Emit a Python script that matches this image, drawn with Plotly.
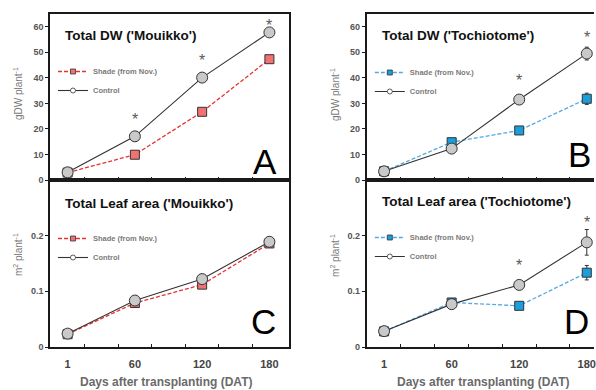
import plotly.graph_objects as go

# ---------------- data ----------------
dat_labels = ["1", "60", "120", "180"]
pos = [0, 1, 2, 3]

dw_mouikko_control = [3.0, 17.1, 40.1, 57.8]
dw_mouikko_shade = [2.9, 9.9, 26.7, 47.3]
dw_mouikko_control_err = [0.3, 0.6, 0.8, 0.8]
dw_mouikko_shade_err = [0.3, 0.5, 0.8, 0.8]
dw_mouikko_sig = [None, 25.6, 48.8, 62.6]

dw_tochi_control = [3.4, 12.3, 31.5, 49.5]
dw_tochi_shade = [3.4, 14.8, 19.4, 31.8]
dw_tochi_control_err = [0.4, 0.6, 0.8, 2.5]
dw_tochi_shade_err = [0.4, 0.6, 0.8, 2.2]
dw_tochi_sig = [None, None, 41.0, 57.6]

la_mouikko_control = [0.024, 0.0835, 0.122, 0.189]
la_mouikko_shade = [0.023, 0.079, 0.112, 0.186]
la_mouikko_control_err = [0.002, 0.003, 0.004, 0.008]
la_mouikko_shade_err = [0.002, 0.003, 0.004, 0.007]
la_mouikko_sig = [None, None, None, None]

la_tochi_control = [0.0285, 0.077, 0.1115, 0.188]
la_tochi_shade = [0.028, 0.080, 0.074, 0.1335]
la_tochi_control_err = [0.002, 0.003, 0.004, 0.023]
la_tochi_shade_err = [0.002, 0.003, 0.004, 0.013]
la_tochi_sig = [None, None, 0.155, 0.2325]

minor_tick_pos = [0.25, 0.75, 1.25, 1.75, 2.25, 2.75]

# ---------------- style ----------------
FONT = "Liberation Sans, Arial, sans-serif"
RED_FILL = "#F27272"
RED_LINE = "#E5332E"
BLUE_FILL = "#1A9FDC"
BLUE_LINE = "#55A9E2"
GREY_FILL = "#C9C9C9"
DARK = "#333333"
AXC = "#1a1a1a"

panels = [
    dict(xa="x", ya="y", legend="legend", ctrl=dw_mouikko_control, sh=dw_mouikko_shade,
         ce=dw_mouikko_control_err, se=dw_mouikko_shade_err, sig=dw_mouikko_sig,
         fill=RED_FILL, line=RED_LINE, title="Total DW ('Mouikko')", letter="A"),
    dict(xa="x2", ya="y2", legend="legend2", ctrl=dw_tochi_control, sh=dw_tochi_shade,
         ce=dw_tochi_control_err, se=dw_tochi_shade_err, sig=dw_tochi_sig,
         fill=BLUE_FILL, line=BLUE_LINE, title="Total DW ('Tochiotome')", letter="B"),
    dict(xa="x3", ya="y3", legend="legend3", ctrl=la_mouikko_control, sh=la_mouikko_shade,
         ce=la_mouikko_control_err, se=la_mouikko_shade_err, sig=la_mouikko_sig,
         fill=RED_FILL, line=RED_LINE, title="Total Leaf area ('Mouikko')", letter="C"),
    dict(xa="x4", ya="y4", legend="legend4", ctrl=la_tochi_control, sh=la_tochi_shade,
         ce=la_tochi_control_err, se=la_tochi_shade_err, sig=la_tochi_sig,
         fill=BLUE_FILL, line=BLUE_LINE, title="Total Leaf area ('Tochiotome')", letter="D"),
]

fig = go.Figure()
annos = []

for p in panels:
    fig.add_trace(go.Scatter(
        x=pos, y=p["sh"], xaxis=p["xa"], yaxis=p["ya"], mode="lines+markers",
        line=dict(color=p["line"], width=1.3, dash="4px,2px"),
        marker=dict(symbol="square", size=9, color=p["fill"], line=dict(color=DARK, width=1)),
        error_y=dict(type="data", array=p["se"], color=DARK, thickness=1, width=2),
        showlegend=False, cliponaxis=False))
    fig.add_trace(go.Scatter(
        x=pos, y=p["ctrl"], xaxis=p["xa"], yaxis=p["ya"], mode="lines+markers",
        line=dict(color=DARK, width=1.1),
        marker=dict(symbol="circle", size=11, color=GREY_FILL, line=dict(color=DARK, width=1)),
        error_y=dict(type="data", array=p["ce"], color=DARK, thickness=1, width=2),
        showlegend=False, cliponaxis=False))
    fig.add_trace(go.Scatter(
        x=[None], y=[None], xaxis=p["xa"], yaxis=p["ya"], mode="lines+markers",
        name="<b>Shade (from Nov.)</b>", legend=p["legend"],
        line=dict(color=p["line"], width=1.3, dash="4px,2px"),
        marker=dict(symbol="square", size=5, color=p["fill"], line=dict(color=DARK, width=0.8))))
    fig.add_trace(go.Scatter(
        x=[None], y=[None], xaxis=p["xa"], yaxis=p["ya"], mode="lines+markers",
        name="<b>Control</b>", legend=p["legend"],
        line=dict(color=DARK, width=1.1),
        marker=dict(symbol="circle", size=5, color="white", line=dict(color=DARK, width=0.8))))
    # significance asterisks
    for xv, s in zip(pos, p["sig"]):
        if s is not None:
            annos.append(dict(text="*", xref=p["xa"], yref=p["ya"], x=xv, y=s, yshift=-5,
                              xanchor="center", yanchor="middle", showarrow=False,
                              font=dict(family=FONT, size=16, color="#5a5a5a")))

# ---------------- layout ----------------
L, R, T, B = 50, 0, 14, 43
W, H = 596, 390
pw = W - L - R
ph = H - T - B
def fx(px):
    return (px - L) / pw
def fy(py):
    return (H - B - py) / ph

left_dom = [0, fx(290)]
right_dom = [fx(367.7), 1]
top_dom = [fy(180), 1]
bot_dom = [0, fy(180)]

left_range = [-0.262, 3.293]
right_range = [-0.26, 3.107]

tickfont_y = dict(family=FONT, size=9, color="#555555", weight="bold")
tickfont_x = dict(family=FONT, size=11, color="#444444", weight="bold")

def xaxis(dom, rng, anchor, labels, mirror=True):
    return dict(domain=dom, range=rng, anchor=anchor, showline=True, linecolor=AXC, linewidth=1.6,
                mirror=mirror, showgrid=False, zeroline=False, ticks="",
                tickvals=pos, ticktext=dat_labels, ticklabeloverflow="allow",
                showticklabels=labels, tickfont=tickfont_x, ticklabelstandoff=6,
                minor=dict(tickvals=minor_tick_pos, ticks="inside", ticklen=3, tickcolor=AXC,
                           tickwidth=1.2, showgrid=False),
                fixedrange=True)

def yaxis(dom, rng, anchor, tv, tt, mirror):
    return dict(domain=dom, range=rng, anchor=anchor, showline=True, linecolor=AXC, linewidth=1.6,
                mirror=mirror, showgrid=False, zeroline=False, ticks="outside", ticklen=3,
                tickcolor=AXC, tickwidth=1, tickvals=tv, ticktext=tt, tickfont=tickfont_y,
                fixedrange=True)

dw_ticks = [0, 10, 20, 30, 40, 50, 60]
dw_ticktext = ["0", "10", "20", "30", "40", "50", "60"]
la_ticks = [0, 0.1, 0.2]
la_ticktext = ["0", "0.1", "0.2"]

legend_common = dict(font=dict(family=FONT, size=7.5, color="#7a7a7a"), bgcolor="rgba(0,0,0,0)",
                     itemwidth=30, tracegroupgap=0, xanchor="left", yanchor="top",
                     itemclick=False, itemdoubleclick=False)

fig.update_layout(
    width=W, height=H,
    margin=dict(l=L, r=R, t=T, b=B),
    paper_bgcolor="white", plot_bgcolor="white",
    font=dict(family=FONT),
    xaxis=xaxis(left_dom, left_range, "y", False),
    xaxis2=xaxis(right_dom, right_range, "y2", False),
    xaxis3=xaxis(left_dom, left_range, "y3", True),
    xaxis4=xaxis(right_dom, right_range, "y4", True),
    yaxis=yaxis(top_dom, [0, 65], "x", dw_ticks, dw_ticktext, True),
    yaxis2=yaxis(top_dom, [0, 65], "x2", dw_ticks, dw_ticktext, False),
    yaxis3=yaxis(bot_dom, [0, 0.3], "x3", la_ticks, la_ticktext, True),
    yaxis4=yaxis(bot_dom, [0, 0.3], "x4", la_ticks, la_ticktext, False),
    legend=dict(x=fx(53), y=fy(57), **legend_common),
    legend2=dict(x=fx(371), y=fy(58), **legend_common),
    legend3=dict(x=fx(53), y=fy(224), **legend_common),
    legend4=dict(x=fx(371), y=fy(223), **legend_common),
)

title_pos = [(63, 35), (381, 35), (63, 203), (381, 202)]
letter_pos = [(265.7, 161), (581, 154), (264, 321), (578, 321)]
for p, (tx, ty), (lx, ly) in zip(panels, title_pos, letter_pos):
    annos.append(dict(text="<b>" + p["title"] + "</b>", xref="paper", yref="paper", x=fx(tx), y=fy(ty),
                      xanchor="left", yanchor="middle", showarrow=False,
                      font=dict(family=FONT, size=13.5, color="#111111")))
    annos.append(dict(text=p["letter"], xref="paper", yref="paper", x=fx(lx), y=fy(ly),
                      xanchor="center", yanchor="middle", showarrow=False,
                      font=dict(family=FONT, size=35, color="#000000")))

for xpx, ypx, txt in [(18, 94, "gDW plant<sup>-1</sup>"), (336, 94, "gDW plant<sup>-1</sup>"),
                      (18, 255, "m<sup>2</sup> plant<sup>-1</sup>"), (336, 255, "m<sup>2</sup> plant<sup>-1</sup>")]:
    annos.append(dict(text=txt, xref="paper", yref="paper", x=fx(xpx), y=fy(ypx), textangle=-90,
                      xanchor="center", yanchor="middle", showarrow=False,
                      font=dict(family=FONT, size=10, color="#7a7a7a")))
for xpx in [166, 485]:
    annos.append(dict(text="<b>Days after transplanting (DAT)</b>", xref="paper", yref="paper",
                      x=fx(xpx), y=fy(381.7), xanchor="center", yanchor="middle", showarrow=False,
                      font=dict(family=FONT, size=12, color="#6a6a6a")))

fig.update_layout(annotations=annos)

fig.write_html("out.html", config={"displayModeBar": False},
               post_script="document.body.style.margin='0';document.body.style.overflow='hidden';")
